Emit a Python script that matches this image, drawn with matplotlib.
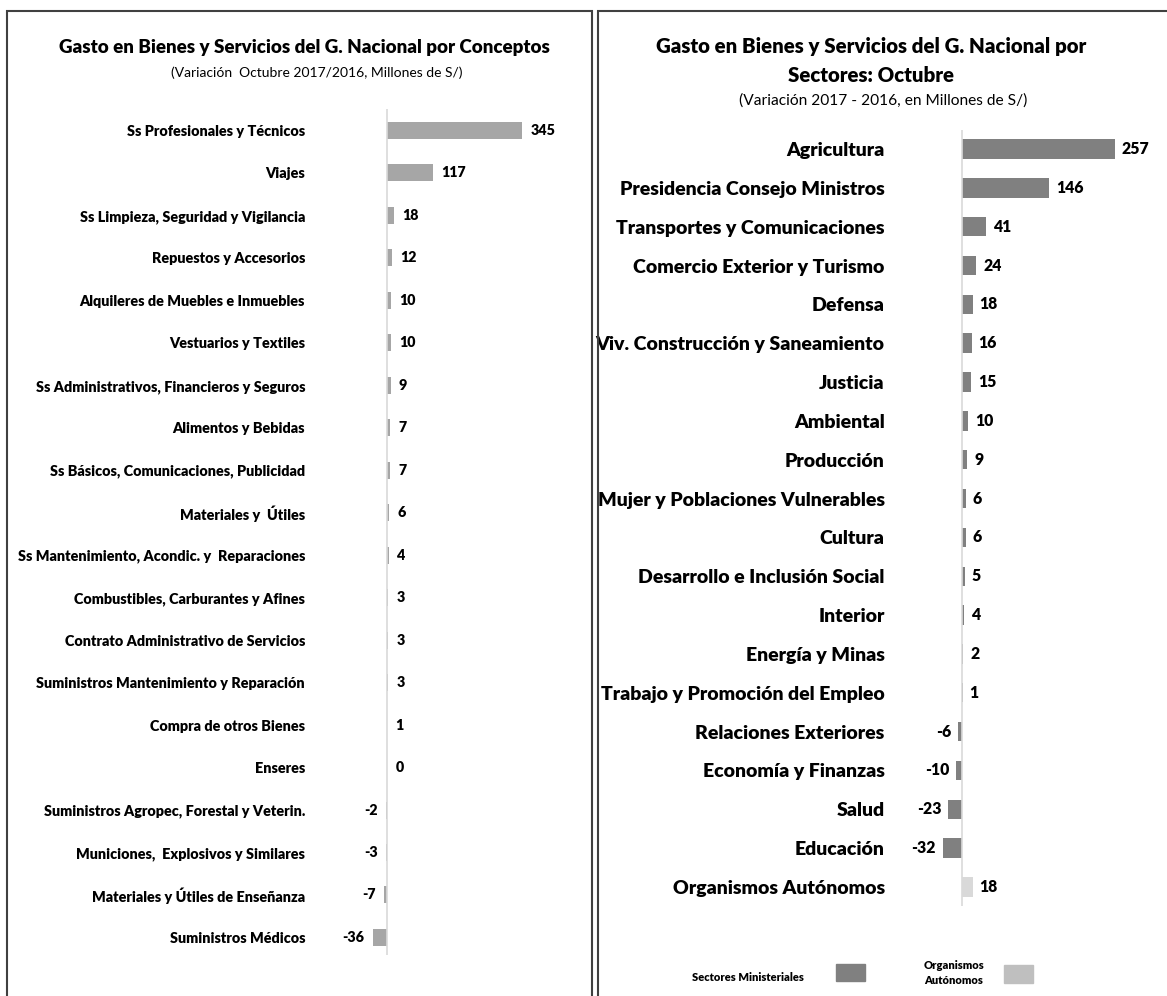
import matplotlib
matplotlib.use('Agg')
import matplotlib.pyplot as plt
from matplotlib.patches import Rectangle

plt.rcParams['font.family'] = ['Lato', 'DejaVu Sans']

# datos: gasto por conceptos
conceptos = ['Ss Profesionales y Técnicos', 'Viajes', 'Ss Limpieza, Seguridad y Vigilancia',
             'Repuestos y Accesorios', 'Alquileres de Muebles e Inmuebles', 'Vestuarios y Textiles',
             'Ss Administrativos, Financieros y Seguros', 'Alimentos y Bebidas',
             'Ss Básicos, Comunicaciones, Publicidad', 'Materiales y  Útiles',
             'Ss Mantenimiento, Acondic. y  Reparaciones', 'Combustibles, Carburantes y Afines',
             'Contrato Administrativo de Servicios', 'Suministros Mantenimiento y Reparación',
             'Compra de otros Bienes', 'Enseres', 'Suministros Agropec, Forestal y Veterin.',
             'Municiones,  Explosivos y Similares', 'Materiales y Útiles de Enseñanza',
             'Suministros Médicos']
val_conceptos = [345, 117, 18, 12, 10, 10, 9, 7, 7, 6, 4, 3, 3, 3, 1, 0, -2, -3, -7, -36]

# datos: gasto por sectores
sectores = ['Agricultura', 'Presidencia Consejo Ministros', 'Transportes y Comunicaciones',
            'Comercio Exterior y Turismo', 'Defensa', 'Viv. Construcción y Saneamiento',
            'Justicia', 'Ambiental', 'Producción', 'Mujer y Poblaciones Vulnerables',
            'Cultura', 'Desarrollo e Inclusión Social', 'Interior', 'Energía y Minas',
            'Trabajo y Promoción del Empleo', 'Relaciones Exteriores', 'Economía y Finanzas',
            'Salud', 'Educación', 'Organismos Autónomos']
val_sectores = [257, 146, 41, 24, 18, 16, 15, 10, 9, 6, 6, 5, 4, 2, 1, -6, -10, -23, -32, 18]
tipo_sector = ['min'] * 19 + ['aut']

W, H = 1167, 996
fig = plt.figure(figsize=(W / 100, H / 100), dpi=100)
BOLD = 'heavy'


def px_axes(x0, y0, x1, y1):
    return fig.add_axes([x0 / W, 1 - y1 / H, (x1 - x0) / W, (y1 - y0) / H])


# marcos de los paneles
fig.patches.append(Rectangle((7 / W, -0.01), (592 - 7) / W, 1 - 11 / H + 0.01,
                             transform=fig.transFigure, fill=False, ec='#404040', lw=1.5))
fig.patches.append(Rectangle((598 / W, -0.01), 1.0, 1 - 11 / H + 0.01,
                             transform=fig.transFigure, fill=False, ec='#404040', lw=1.5))


def barras(ax, labels, vals, colors, height, fs_lab, fs_val, pad, off):
    y = range(len(labels))
    ax.barh(y, vals, height=height, color=colors)
    ax.axvline(0, color='#D9D9D9', lw=1.2)
    ax.set_yticks(list(y))
    ax.set_yticklabels(labels, fontsize=fs_lab, fontweight=BOLD)
    ax.tick_params(axis='y', length=0, pad=pad)
    ax.set_xticks([])
    for s in ax.spines.values():
        s.set_visible(False)
    for i, v in enumerate(vals):
        if v < 0:
            ax.annotate(str(v), (v, i), xytext=(-off, 0), textcoords='offset points',
                        ha='right', va='center', fontsize=fs_val, fontweight=BOLD)
        else:
            ax.annotate(str(v), (v, i), xytext=(off, 0), textcoords='offset points',
                        ha='left', va='center', fontsize=fs_val, fontweight=BOLD)


# panel izquierdo
ax1 = px_axes(330, 109, 570, 955)
barras(ax1, conceptos, val_conceptos, '#A6A6A6', 0.4, 10.4, 10.3, 18, 6)
ax1.set_xlim(-(387 - 330) / 0.3913, (570 - 387) / 0.3913)
ax1.set_ylim((955 - 130.5) / 42.47, -(130.5 - 109) / 42.47)

fig.text(304 / W, 1 - 47 / H, 'Gasto en Bienes y Servicios del G. Nacional por Conceptos',
         ha='center', va='center', fontsize=13.5, fontweight=BOLD)
fig.text(317 / W, 1 - 73 / H, '(Variación  Octubre 2017/2016, Millones de S/)',
         ha='center', va='center', fontsize=10)

# panel derecho
col_sec = ['#808080' if t == 'min' else '#D9D9D9' for t in tipo_sector]
ax2 = px_axes(900, 130, 1160, 906)
barras(ax2, sectores, val_sectores, col_sec, 0.5, 14, 11.3, 11, 5)
ax2.set_xlim(-(962 - 900) / 0.595, (1160 - 962) / 0.595)
ax2.set_ylim((906 - 149) / 38.84, -(149 - 130) / 38.84)

fig.text(871 / W, 1 - 47 / H, 'Gasto en Bienes y Servicios del G. Nacional por',
         ha='center', va='center', fontsize=14.7, fontweight=BOLD)
fig.text(871 / W, 1 - 75 / H, 'Sectores: Octubre',
         ha='center', va='center', fontsize=14.7, fontweight=BOLD)
fig.text(883 / W, 1 - 101 / H, '(Variación 2017 - 2016, en Millones de S/)',
         ha='center', va='center', fontsize=11.2)

# leyenda
fig.text(748 / W, 1 - 977 / H, 'Sectores Ministeriales', ha='center', va='center',
         fontsize=8, fontweight=BOLD)
fig.patches.append(Rectangle((836 / W, 1 - 981 / H), 29 / W, 17 / H,
                             transform=fig.transFigure, color='#808080'))
fig.text(924 / W, 1 - 973 / H, 'Organismos\nAutónomos', ha='left', va='center',
         fontsize=8, fontweight=BOLD, linespacing=1.4)
fig.patches.append(Rectangle((1004 / W, 1 - 983 / H), 29 / W, 18 / H,
                             transform=fig.transFigure, color='#BFBFBF'))

fig.savefig('out.png', dpi=100)
